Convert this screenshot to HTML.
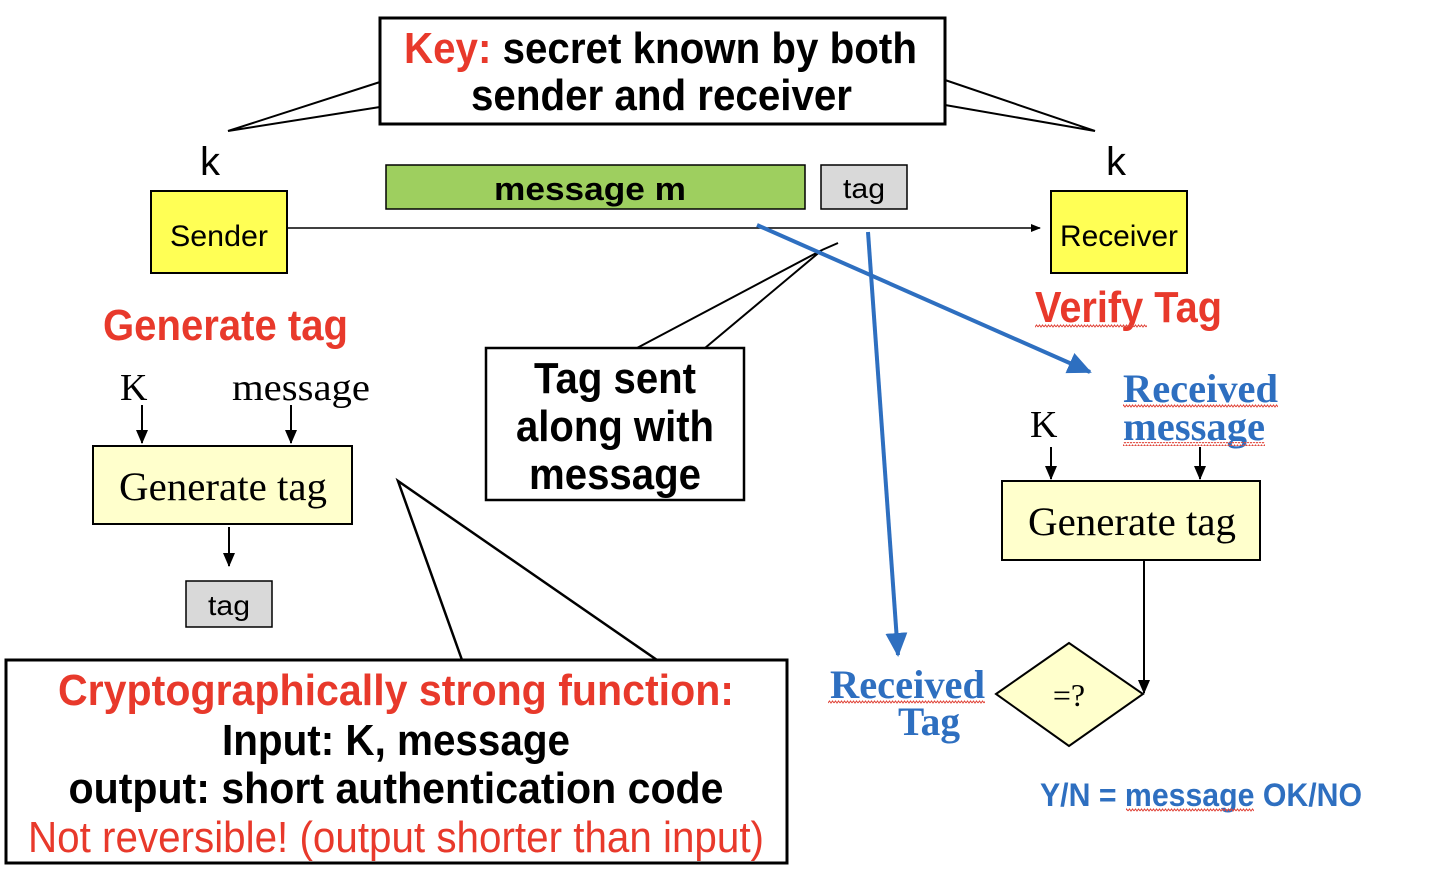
<!DOCTYPE html>
<html><head><meta charset="utf-8"><style>html,body{margin:0;padding:0;background:#fff}svg{display:block}</style></head>
<body>
<svg width="1444" height="874" viewBox="0 0 1444 874" xmlns="http://www.w3.org/2000/svg">
<defs>
<marker id="ab" markerWidth="10" markerHeight="10" refX="9" refY="5" orient="auto" markerUnits="userSpaceOnUse"><path d="M0,1 L10,5 L0,9 z" fill="#000"/></marker>
<marker id="ab2" markerWidth="14" markerHeight="14" refX="13" refY="7" orient="auto" markerUnits="userSpaceOnUse"><path d="M0,1 L14,7 L0,13 z" fill="#000"/></marker>
<marker id="bl" markerWidth="26" markerHeight="26" refX="22" refY="13" orient="auto" markerUnits="userSpaceOnUse"><path d="M0,2 L24,13 L0,24 z" fill="#2e6fc0"/></marker>
<pattern id="sq" width="6" height="4" patternUnits="userSpaceOnUse"><path d="M0,3 L1.5,1 L3,3 L4.5,1 L6,3" stroke="#e0453a" fill="none" stroke-width="1"/></pattern>
</defs>
<g font-family="Liberation Sans, sans-serif">
<polyline points="380,82 228,131 380,107" fill="none" stroke="#000" stroke-width="2"/>
<polyline points="945,80 1095,131 945,105" fill="none" stroke="#000" stroke-width="2"/>
<rect x="380" y="18" width="565" height="106" fill="#fff" stroke="#000" stroke-width="3"/>
<text x="404" y="63" font-size="44" font-weight="bold" textLength="513" lengthAdjust="spacingAndGlyphs"><tspan fill="#e8392b">Key:</tspan> secret known by both</text>
<text x="471" y="110" font-size="44" font-weight="bold" textLength="381" lengthAdjust="spacingAndGlyphs">sender and receiver</text>
<text x="200" y="175" font-size="40">k</text>
<text x="1106" y="175" font-size="40">k</text>
<rect x="151" y="191" width="136" height="82" fill="#ffff55" stroke="#000" stroke-width="2"/>
<text x="219" y="246" font-size="30" text-anchor="middle" textLength="98" lengthAdjust="spacingAndGlyphs">Sender</text>
<rect x="1051" y="191" width="136" height="82" fill="#ffff55" stroke="#000" stroke-width="2"/>
<text x="1119" y="246" font-size="30" text-anchor="middle" textLength="118" lengthAdjust="spacingAndGlyphs">Receiver</text>
<rect x="386" y="165" width="419" height="44" fill="#9ecf5f" stroke="#000" stroke-width="1.5"/>
<text x="590" y="200" font-size="32" font-weight="bold" text-anchor="middle" textLength="192" lengthAdjust="spacingAndGlyphs">message  m</text>
<rect x="821" y="165" width="86" height="44" fill="#d9d9d9" stroke="#000" stroke-width="1.5"/>
<text x="864" y="198" font-size="28" text-anchor="middle" textLength="42" lengthAdjust="spacingAndGlyphs">tag</text>
<line x1="287" y1="228" x2="1040" y2="228" stroke="#000" stroke-width="1.5" marker-end="url(#ab)"/>
<polyline points="637,348 822,250 705,348" fill="none" stroke="#000" stroke-width="2"/>
<line x1="822" y1="250" x2="838" y2="243" stroke="#000" stroke-width="2"/>
<rect x="486" y="348" width="258" height="152" fill="#fff" stroke="#000" stroke-width="2.5"/>
<text x="615" y="393" font-size="44" font-weight="bold" text-anchor="middle" textLength="162" lengthAdjust="spacingAndGlyphs">Tag sent</text>
<text x="615" y="441" font-size="44" font-weight="bold" text-anchor="middle" textLength="198" lengthAdjust="spacingAndGlyphs">along with</text>
<text x="615" y="489" font-size="44" font-weight="bold" text-anchor="middle" textLength="172" lengthAdjust="spacingAndGlyphs">message</text>
<line x1="757" y1="225" x2="1090" y2="372" stroke="#2e6fc0" stroke-width="4" marker-end="url(#bl)"/>
<line x1="868" y1="232" x2="898" y2="655" stroke="#2e6fc0" stroke-width="4" marker-end="url(#bl)"/>
<text x="103" y="340" font-size="44" font-weight="bold" fill="#e8392b" textLength="245" lengthAdjust="spacingAndGlyphs">Generate tag</text>
<g font-family="Liberation Serif, serif">
<text x="120" y="400" font-size="38">K</text>
<text x="232" y="400" font-size="38" textLength="138" lengthAdjust="spacingAndGlyphs">message</text>
<rect x="93" y="446" width="259" height="78" fill="#ffffcc" stroke="#000" stroke-width="2"/>
<text x="223" y="500" font-size="40" text-anchor="middle" textLength="208" lengthAdjust="spacingAndGlyphs">Generate tag</text>
<rect x="1002" y="481" width="258" height="79" fill="#ffffcc" stroke="#000" stroke-width="2"/>
<text x="1132" y="535" font-size="40" text-anchor="middle" textLength="208" lengthAdjust="spacingAndGlyphs">Generate tag</text>
<text x="1030" y="437" font-size="38">K</text>
<polygon points="996,694 1069,643 1143,694 1069,746" fill="#ffffcc" stroke="#000" stroke-width="2"/>
<text x="1069" y="706" font-size="32" text-anchor="middle">=?</text>
<g font-weight="bold" fill="#2e6fc0" font-size="40">
<text x="1123" y="402" textLength="155" lengthAdjust="spacingAndGlyphs">Received</text>
<text x="1123" y="440" textLength="142" lengthAdjust="spacingAndGlyphs">message</text>
<text x="830" y="698" textLength="155" lengthAdjust="spacingAndGlyphs">Received</text>
<text x="898" y="735" textLength="62" lengthAdjust="spacingAndGlyphs">Tag</text>
</g>
</g>
<rect x="1123" y="404" width="155" height="4" fill="url(#sq)"/>
<rect x="1123" y="442" width="142" height="4" fill="url(#sq)"/>
<rect x="828" y="700" width="157" height="4" fill="url(#sq)"/>
<line x1="142" y1="405" x2="142" y2="443" stroke="#000" stroke-width="2" marker-end="url(#ab2)"/>
<line x1="291" y1="405" x2="291" y2="443" stroke="#000" stroke-width="2" marker-end="url(#ab2)"/>
<line x1="229" y1="527" x2="229" y2="566" stroke="#000" stroke-width="2" marker-end="url(#ab2)"/>
<line x1="1051" y1="447" x2="1051" y2="479" stroke="#000" stroke-width="2" marker-end="url(#ab2)"/>
<line x1="1200" y1="447" x2="1200" y2="479" stroke="#000" stroke-width="2" marker-end="url(#ab2)"/>
<line x1="1144" y1="560" x2="1144" y2="693" stroke="#000" stroke-width="2" marker-end="url(#ab2)"/>
<rect x="186" y="581" width="86" height="46" fill="#d9d9d9" stroke="#000" stroke-width="1.5"/>
<text x="229" y="615" font-size="28" text-anchor="middle" textLength="42" lengthAdjust="spacingAndGlyphs">tag</text>
<text x="1035" y="322" font-size="44" font-weight="bold" fill="#e8392b" textLength="187" lengthAdjust="spacingAndGlyphs">Verify Tag</text>
<rect x="1035" y="324" width="112" height="4" fill="url(#sq)"/>
<text x="1040" y="806" font-size="32" font-weight="bold" fill="#2e6fc0" textLength="322" lengthAdjust="spacingAndGlyphs">Y/N = message OK/NO</text>
<rect x="1126" y="808" width="128" height="4" fill="url(#sq)"/>
<polygon points="462,660 398,481 657,660" fill="#fff" stroke="#000" stroke-width="2.5"/>
<rect x="6" y="660" width="781" height="203" fill="#fff" stroke="#000" stroke-width="3"/>
<text x="396" y="705" font-size="44" font-weight="bold" fill="#e8392b" text-anchor="middle" textLength="676" lengthAdjust="spacingAndGlyphs">Cryptographically strong  function:</text>
<text x="396" y="755" font-size="44" font-weight="bold" text-anchor="middle" textLength="348" lengthAdjust="spacingAndGlyphs">Input: K, message</text>
<text x="396" y="803" font-size="44" font-weight="bold" text-anchor="middle" textLength="655" lengthAdjust="spacingAndGlyphs">output:  short authentication code</text>
<text x="396" y="852" font-size="44" fill="#e8392b" text-anchor="middle" textLength="736" lengthAdjust="spacingAndGlyphs">Not reversible! (output shorter than input)</text>
</g>
</svg>
</body></html>
